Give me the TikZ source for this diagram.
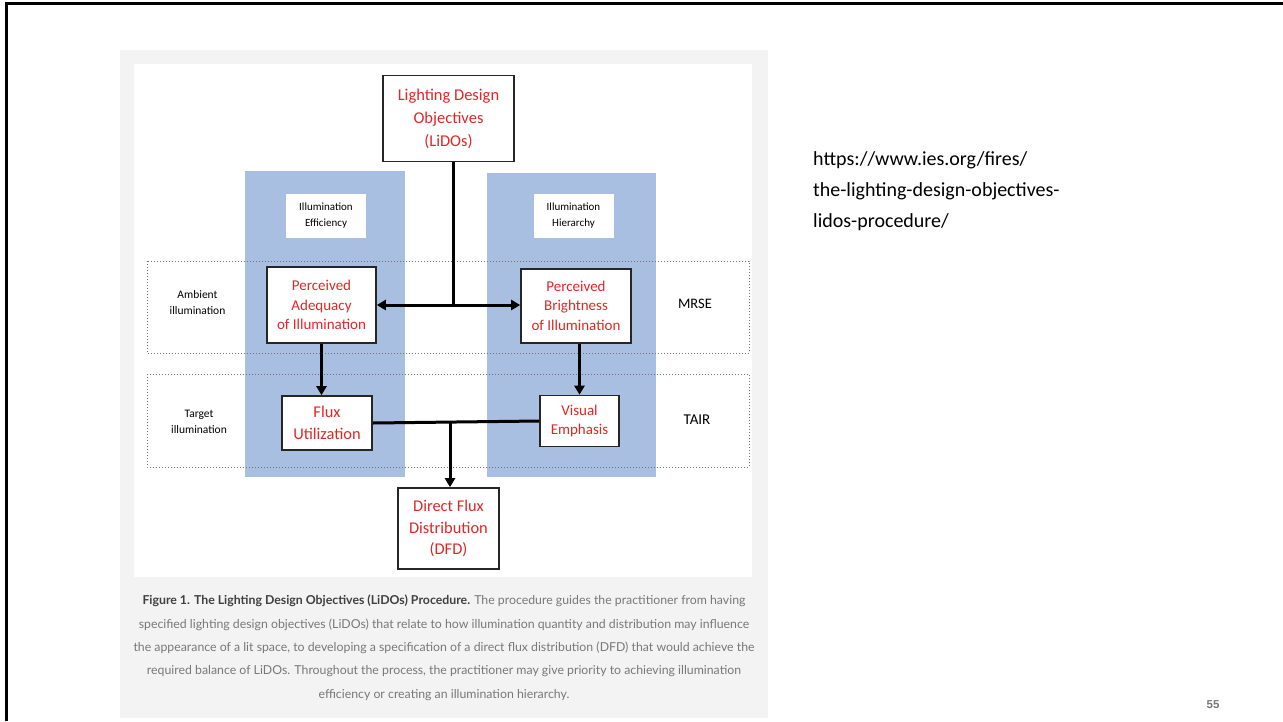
\documentclass[tikz,border=0pt]{standalone}
\usepackage{fontspec}
\setmainfont{Carlito}
\newfontfamily\capfont{Lato}
\newfontfamily\numfont{Liberation Sans}
\usepackage{tikz}
\usetikzlibrary{arrows.meta}

\definecolor{colblue}{RGB}{169,191,226}
\definecolor{boxred}{RGB}{226,38,38}
\definecolor{panelgray}{RGB}{243,243,243}
\definecolor{capgray}{RGB}{120,120,120}

\begin{document}
\begin{tikzpicture}[x=1pt,y=-1pt]
  \tikzset{stage/.style = {draw=black!85,line width=1.6pt,fill=white,text=boxred,align=center,inner sep=1pt}}
  \tikzset{tag/.style = {fill=white,align=center,font=\fontsize{11}{16}\selectfont,inner sep=1pt,minimum width=80pt,minimum height=44pt}}
  \tikzset{side/.style = {align=center,font=\fontsize{11.5}{15.7}\selectfont}}
  \tikzset{flow/.style = {line width=3pt,-{Triangle[length=9pt,width=10pt]}}}
  \tikzset{band/.style = {draw=black!55,dotted,line width=1pt}}
  \tikzset{caption/.style = {text=capgray,font=\capfont\fontsize{12.3}{14}\selectfont}}

\useasboundingbox (0,0) rectangle (1283,721);
\fill[white] (0,0) rectangle (1283,721);
\draw[line width=3pt] (6,721) -- (6,3) -- (1283,3);

% figure panel
\fill[panelgray] (120,50) rectangle (768,718);
\fill[white] (134,64) rectangle (752,577);

% priority columns
\fill[colblue] (245,171) rectangle (405,477);
\fill[colblue] (487,173) rectangle (656,477);
\node[tag] (eff) at (326,215.5) {Illumination\\Efficiency};
\node[tag] (hier) at (573.5,215.5) {Illumination\\Hierarchy};

% dotted bands
\draw[band] (147,261) rectangle (749,353);
\draw[band] (147,374) rectangle (749,467);
\node[side] (amb) at (197.5,302.5) {Ambient\\illumination};
\node[side] (tgt) at (199,422) {Target\\illumination};
\node[font=\fontsize{14.5}{16}\selectfont] (mrse) at (695,304) {MRSE};
\node[font=\fontsize{15}{16}\selectfont] (tair) at (697,420) {TAIR};

% stages
\node[stage,minimum width=131pt,minimum height=86pt,font=\fontsize{16.5}{23}\selectfont] (lidos) at (448.5,118.6) {Lighting Design\\Objectives\\(LiDOs)};
\node[stage,minimum width=109pt,minimum height=76pt,font=\fontsize{15}{19.6}\selectfont] (ade) at (321.5,305) {Perceived\\Adequacy\\of Illumination};
\node[stage,minimum width=110pt,minimum height=74pt,font=\fontsize{15}{19.6}\selectfont] (bri) at (576,305.7) {Perceived\\Brightness\\of Illumination};
\node[stage,minimum width=90pt,minimum height=54pt,font=\fontsize{16.4}{21.4}\selectfont] (flux) at (327,423) {Flux\\Utilization};
\node[stage,minimum width=79pt,minimum height=51pt,font=\fontsize{15}{19.6}\selectfont] (vis) at (579.5,421) {Visual\\Emphasis};
\node[stage,minimum width=101pt,minimum height=81pt,font=\fontsize{16.4}{21.4}\selectfont] (dfd) at (448.5,528.5) {Direct Flux\\Distribution\\(DFD)};

\coordinate (j1) at (453,305);
\coordinate (j2) at (450,422);

\draw[line width=3pt] (lidos.south -| j1) -- (j1);
\draw[flow] (j1) -- (ade.east |- j1);
\draw[flow] (j1) -- (bri.west |- j1);
\draw[flow] (ade.south) -- (flux.north -| ade.south);
\draw[flow] (bri.south -| vis.north) -- (vis.north);
\draw[line width=3pt] (flux.east) -- (vis.west);
\draw[flow] (j2) -- (dfd.north -| j2);

% caption
\node[caption] (cap1) at (444,601) {{\bfseries\color{black!75}Figure 1. The Lighting Design Objectives (LiDOs) Procedure.} The procedure guides the practitioner from having};
\node[caption] (cap2) at (444,624.5) {specified lighting design objectives (LiDOs) that relate to how illumination quantity and distribution may influence};
\node[caption] (cap3) at (444,648) {the appearance of a lit space, to developing a specification of a direct flux distribution (DFD) that would achieve the};
\node[caption] (cap4) at (444,671.5) {required balance of LiDOs. Throughout the process, the practitioner may give priority to achieving illumination};
\node[caption] (cap5) at (444,695) {efficiency or creating an illumination hierarchy.};

% source link
\node[anchor=north west,align=left,font=\fontsize{20}{31}\selectfont,inner sep=0pt] (url) at (813,151) {https://www.ies.org/fires/\\the-lighting-design-objectives-\\lidos-procedure/};

\node[text=capgray,font=\numfont\bfseries\fontsize{11.5}{13}\selectfont] (pg) at (1213,705) {55};
\end{tikzpicture}
\end{document}
